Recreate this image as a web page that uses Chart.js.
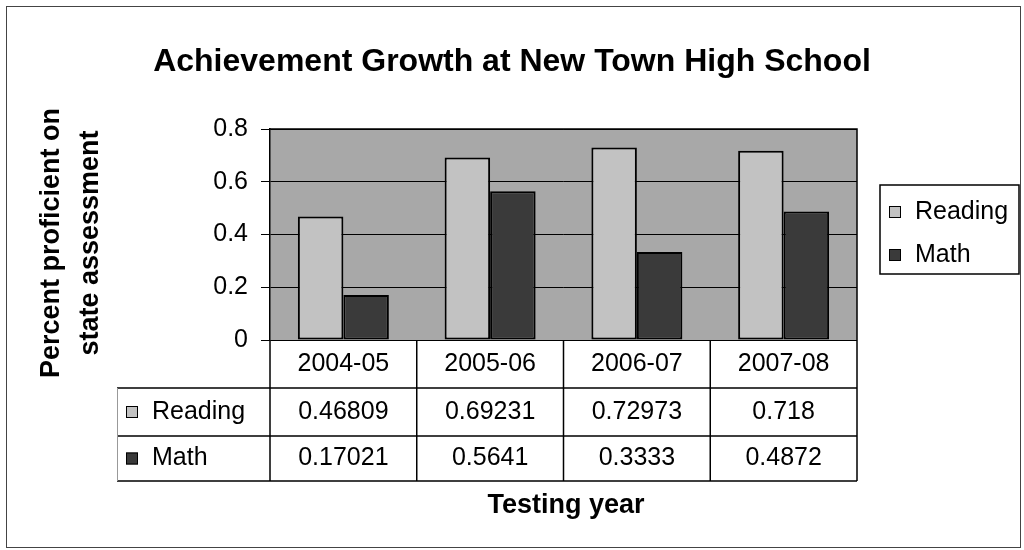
<!DOCTYPE html>
<html>
<head>
<meta charset="utf-8">
<script src="https://cdn.jsdelivr.net/npm/chart.js@4"></script>
<style>
body{margin:0;background:#fff;}
#wrap{width:1024px;height:550px;}
</style>
</head>
<body>
<div id="wrap"><canvas id="grafico" width="1024" height="550"></canvas></div>
<script>
const anios = ["2004-05","2005-06","2006-07","2007-08"];
const lectura = [0.46809,0.69231,0.72973,0.718];
const mate = [0.17021,0.5641,0.3333,0.4872];
const ticksY = [0,0.2,0.4,0.6,0.8];

const colLectura = '#c2c2c2';
const colMate = '#3a3a3a';
const fondoPlot = '#a8a8a8';

const series = [
  {nombre:"Reading", datos:lectura, color:colLectura},
  {nombre:"Math", datos:mate, color:colMate}
];

const fuente = '"Liberation Sans", Arial, sans-serif';

function swatch(ctx, x, y, color){
  ctx.fillStyle = color;
  ctx.fillRect(x, y, 12, 12);
  ctx.strokeStyle = '#000';
  ctx.lineWidth = 1;
  ctx.strokeRect(x+0.5, y+0.5, 11, 11);
}

const extras = {
  id:'extras',
  beforeDraw(chart){
    const {ctx, chartArea:a} = chart;
    ctx.save();
    ctx.fillStyle = fondoPlot;
    ctx.fillRect(a.left, a.top, a.right-a.left, a.bottom-a.top);
    ctx.restore();
  },
  afterDraw(chart){
    const {ctx, chartArea:a} = chart;
    ctx.save();

    // borde exterior
    ctx.strokeStyle = '#444';
    ctx.lineWidth = 1;
    ctx.strokeRect(6.5, 6.5, 1014, 541);

    // borde del plot
    ctx.strokeStyle = '#000';
    ctx.lineWidth = 1.5;
    ctx.beginPath();
    ctx.moveTo(a.left, a.top);
    ctx.lineTo(a.right, a.top);
    ctx.lineTo(a.right, a.bottom);
    ctx.stroke();

    // titulo
    ctx.fillStyle = '#000';
    ctx.textAlign = 'center';
    ctx.textBaseline = 'middle';
    ctx.font = 'bold 32px ' + fuente;
    ctx.fillText("Achievement Growth at New Town High School", 512, 62);

    // titulo eje y
    ctx.font = 'bold 27px ' + fuente;
    ctx.save();
    ctx.translate(52, 243);
    ctx.rotate(-Math.PI/2);
    ctx.fillText("Percent proficient on", 0, 0);
    ctx.restore();
    ctx.save();
    ctx.translate(91, 243);
    ctx.rotate(-Math.PI/2);
    ctx.fillText("state assessment", 0, 0);
    ctx.restore();

    // titulo eje x
    ctx.fillText("Testing year", 566, 506);

    // tabla de datos
    const n = anios.length;
    const w = (a.right - a.left) / n;
    const filas = [a.bottom, a.bottom+48, a.bottom+96, a.bottom+141];
    const izq = 117;
    ctx.strokeStyle = '#000';
    ctx.lineWidth = 1.5;
    ctx.beginPath();
    for(let i=0;i<=n;i++){
      const x = a.left + i*w;
      ctx.moveTo(x, filas[0]);
      ctx.lineTo(x, filas[3]);
    }
    ctx.moveTo(izq, filas[1]); ctx.lineTo(a.right, filas[1]);
    ctx.moveTo(izq, filas[2]); ctx.lineTo(a.right, filas[2]);
    ctx.moveTo(izq, filas[3]); ctx.lineTo(a.right, filas[3]);
    ctx.stroke();
    ctx.strokeStyle = '#999';
    ctx.lineWidth = 1;
    ctx.beginPath();
    ctx.moveTo(izq+0.5, filas[1]); ctx.lineTo(izq+0.5, filas[3]);
    ctx.stroke();

    ctx.font = '25px ' + fuente;
    ctx.fillStyle = '#000';
    ctx.textAlign = 'center';
    const xs = chart.scales.x;
    anios.forEach((c,i)=>{
      const cx = xs.getPixelForValue(i);
      ctx.fillText(c, cx, (filas[0]+filas[1])/2);
      series.forEach((s,j)=>{
        ctx.fillText(String(s.datos[i]), cx, (filas[j+1]+filas[j+2])/2);
      });
    });
    ctx.textAlign = 'left';
    series.forEach((s,j)=>{
      const cy = (filas[j+1]+filas[j+2])/2;
      swatch(ctx, 126, cy-6, s.color);
      ctx.fillStyle = '#000';
      ctx.fillText(s.nombre, 152, cy);
    });

    // leyenda
    ctx.strokeStyle = '#000';
    ctx.lineWidth = 1.5;
    ctx.strokeRect(880, 185, 139, 89);
    series.forEach((s,j)=>{
      const cy = 212 + j*43;
      swatch(ctx, 889, cy-6, s.color);
      ctx.fillStyle = '#000';
      ctx.fillText(s.nombre, 915, cy);
    });

    ctx.restore();
  }
};

new Chart(document.getElementById('grafico'), {
  type:'bar',
  data:{
    labels: anios,
    datasets: series.map(s=>({
      label: s.nombre,
      data: s.datos,
      backgroundColor: s.color,
      borderColor: '#000',
      borderWidth: 2,
      borderSkipped: false,
      categoryPercentage: 0.62,
      barPercentage: 1
    }))
  },
  options:{
    responsive:false,
    animation:false,
    layout:{padding:{left:190, top:129, right:167, bottom:210}},
    plugins:{legend:{display:false}, title:{display:false}, tooltip:{enabled:false}},
    scales:{
      x:{display:false},
      y:{
        min:0, max:0.8,
        afterFit(scale){ scale.width = 80; },
        afterBuildTicks(scale){ scale.ticks = ticksY.map(v=>({value:v})); },
        ticks:{
          color:'#000',
          padding:13,
          font:{size:25, family:'"Liberation Sans", Arial, sans-serif'},
          callback:(v)=>String(Number(v.toFixed(1)))
        },
        grid:{color:'#000', lineWidth:1, tickLength:9, drawTicks:true},
        border:{color:'#000', width:1.5}
      }
    }
  },
  plugins:[extras]
});
</script>
</body>
</html>
